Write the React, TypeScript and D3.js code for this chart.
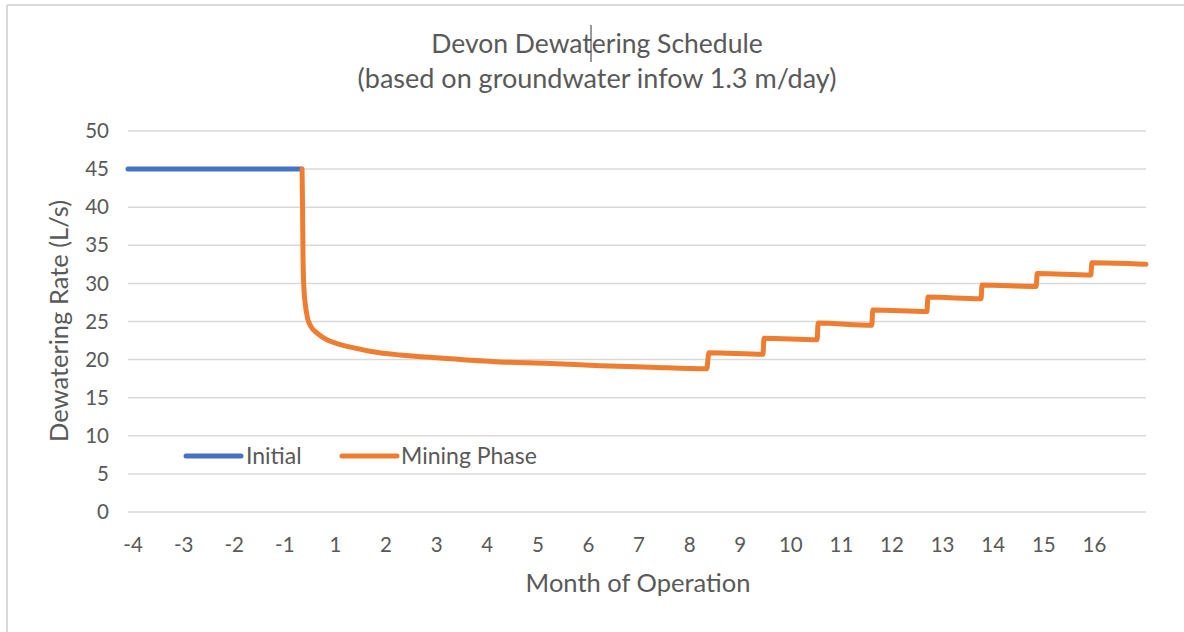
import React from 'react';
import * as d3 from 'd3';

// Category labels along the bottom axis (Excel category axis, no month 0)
const monthLabels = ['-4', '-3', '-2', '-1', '1', '2', '3', '4', '5', '6', '7', '8', '9', '10', '11', '12', '13', '14', '15', '16'];
const rateTicks = [0, 5, 10, 15, 20, 25, 30, 35, 40, 45, 50];

// x values are axis slots: slot 0 is the "-4" label, slot 19 is the "16" label
const initialSlot = [-0.1, 3.33];
const initialRate = [45, 45];

const miningSlot = [
  3.34, 3.35, 3.36, 3.38, 3.4, 3.45, 3.52, 3.65, 3.83, 4.03, 4.39, 4.68, 5.28, 6.07, 7.25, 8.24, 9.23, 10.22, 11.34,
  11.38, 12.45, 12.47, 13.52, 13.54, 14.6, 14.62, 15.69, 15.71, 16.76, 16.78, 17.85, 17.87, 18.93, 18.95, 20.02,
];
const miningRate = [
  45, 40, 33, 29, 27.5, 25.4, 24.3, 23.4, 22.6, 22.1, 21.5, 21.1, 20.6, 20.2, 19.7, 19.5, 19.2, 19.0, 18.8,
  20.9, 20.7, 22.8, 22.6, 24.8, 24.5, 26.5, 26.3, 28.2, 28.0, 29.8, 29.6, 31.3, 31.1, 32.7, 32.5,
];

const W = 1184;
const H = 632;
const FONT = 'Lato, "Open Sans", sans-serif';
const TEXT = '#595959';
const GRID = '#d9d9d9';
const BLUE = '#4472c4';
const ORANGE = '#ed7d31';

export default function App() {
  const x = d3.scaleLinear().domain([-0.1, 20.02]).range([128, 1146]);
  const y = d3.scaleLinear().domain([0, 50]).range([512, 131]);

  const line = d3.line<[number, number]>()
    .x(d => x(d[0]))
    .y(d => y(d[1]))
    .curve(d3.curveMonotoneX);

  const initialPts = initialSlot.map((s, i) => [s, initialRate[i]] as [number, number]);
  const miningPts = miningSlot.map((s, i) => [s, miningRate[i]] as [number, number]);

  return (
    <svg width={W} height={H} style={{ position: 'absolute', left: 0, top: 0, background: '#fff' }} fontFamily={FONT}>
      <rect width={W} height={H} fill="#fff" />
      {/* chart frame */}
      <line x1={7} y1={5} x2={W} y2={5} stroke={GRID} strokeWidth={2} />
      <line x1={7} y1={5} x2={7} y2={H} stroke={GRID} strokeWidth={2} />

      {/* title */}
      <text x={597} y={53} textAnchor="middle" fontSize={26.5} fill={TEXT}>Devon Dewatering Schedule</text>
      <text x={597} y={88} textAnchor="middle" fontSize={27} fill={TEXT}>(based on groundwater infow 1.3 m/day)</text>
      <line x1={591} y1={25} x2={591} y2={62} stroke="#333" strokeWidth={1} />

      {/* gridlines + y labels */}
      {rateTicks.map(t => (
        <g key={t}>
          <line x1={x(-0.1)} x2={x(20.02)} y1={y(t)} y2={y(t)} stroke={GRID} strokeWidth={1.5} />
          <text x={109} y={y(t)} dy="0.35em" textAnchor="end" fontSize={20.5} fill={TEXT}>{t}</text>
        </g>
      ))}

      {/* x labels */}
      {monthLabels.map((m, i) => (
        <text key={m} x={x(i)} y={552} textAnchor="middle" fontSize={20.5} fill={TEXT}>{m}</text>
      ))}

      {/* axis titles */}
      <text transform={`translate(68,${321}) rotate(-90)`} textAnchor="middle" fontSize={25.5} fill={TEXT}>Dewatering Rate (L/s)</text>
      <text x={638} y={592} textAnchor="middle" fontSize={25.5} fill={TEXT}>Month of Operation</text>

      {/* series */}
      <path d={line(initialPts) ?? ''} fill="none" stroke={BLUE} strokeWidth={5} strokeLinecap="round" strokeLinejoin="round" />
      <path d={line(miningPts) ?? ''} fill="none" stroke={ORANGE} strokeWidth={5} strokeLinecap="round" strokeLinejoin="round" />

      {/* legend */}
      <line x1={186} x2={241} y1={456} y2={456} stroke={BLUE} strokeWidth={5} strokeLinecap="round" />
      <text x={246} y={464} fontSize={23} fill={TEXT}>Initial</text>
      <line x1={342} x2={397} y1={456} y2={456} stroke={ORANGE} strokeWidth={5} strokeLinecap="round" />
      <text x={401} y={464} fontSize={23} fill={TEXT}>Mining Phase</text>
    </svg>
  );
}
